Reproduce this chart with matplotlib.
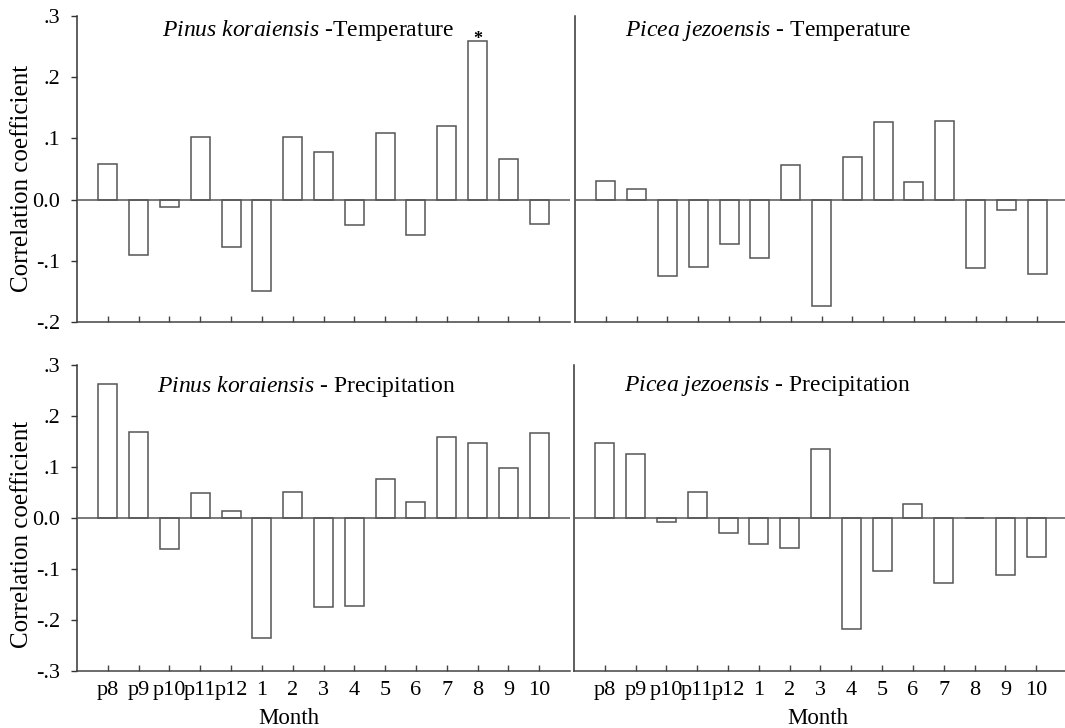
import matplotlib
matplotlib.use("Agg")
import matplotlib.pyplot as plt
import numpy as np

plt.rcParams['font.family'] = ['Liberation Serif', 'DejaVu Serif']
plt.rcParams['mathtext.fontset'] = 'custom'
plt.rcParams['mathtext.rm'] = 'Liberation Serif'
plt.rcParams['mathtext.it'] = 'Liberation Serif:italic'

months = ['p8', 'p9', 'p10', 'p11', 'p12', '1', '2', '3', '4', '5', '6', '7', '8', '9', '10']

pk_temp = [0.058, -0.091, -0.012, 0.103, -0.077, -0.150, 0.102, 0.078, -0.041,
           0.109, -0.058, 0.121, 0.259, 0.066, -0.040]
pj_temp = [0.031, 0.018, -0.125, -0.110, -0.072, -0.096, 0.057, -0.174, 0.070,
           0.127, 0.029, 0.129, -0.111, -0.017, -0.122]
pk_prec = [0.263, 0.169, -0.061, 0.050, 0.014, -0.236, 0.051, -0.175, -0.173,
           0.076, 0.031, 0.158, 0.147, 0.098, 0.167]
pj_prec = [0.147, 0.126, -0.007, 0.051, -0.030, -0.050, -0.058, 0.135, -0.218,
           -0.104, 0.028, -0.127, 0.0, -0.112, -0.077]

titles = [r'$\it{Pinus\ koraiensis}$ -Temperature',
          r'$\it{Picea\ jezoensis}$ - Temperature',
          r'$\it{Pinus\ koraiensis}$ - Precipitation',
          r'$\it{Picea\ jezoensis}$ - Precipitation']

top_yticks = [-0.2, -0.1, 0.0, 0.1, 0.2, 0.3]
top_ylabels = ['-.2', '-.1', '0.0', '.1', '.2', '.3']
bot_yticks = [-0.3, -0.2, -0.1, 0.0, 0.1, 0.2, 0.3]
bot_ylabels = ['-.3', '-.2', '-.1', '0.0', '.1', '.2', '.3']

W, H = 1065, 728
fig = plt.figure(figsize=(W / 100, H / 100), dpi=100)

def frac(x0, y_top, x1, y_bot):
    return [x0 / W, 1 - y_bot / H, (x1 - x0) / W, (y_bot - y_top) / H]

axes = [
    fig.add_axes(frac(77, 16, 570, 322)),
    fig.add_axes(frac(575, 16, 1068, 322)),
    fig.add_axes(frac(77, 365, 570, 671)),
    fig.add_axes(frac(574, 365, 1067, 671)),
]
data = [pk_temp, pj_temp, pk_prec, pj_prec]
title_x = [0.172, 0.101, 0.162, 0.101]
title_y = [0.951, 0.95, 0.93, 0.93]

edge = '#555555'
x = np.arange(len(months))
for i, (ax, vals) in enumerate(zip(axes, data)):
    ax.bar(x, vals, width=0.62, color='white', edgecolor=edge, linewidth=1.1, zorder=2)
    ax.axhline(0, color=edge, linewidth=1.1, zorder=3)
    ax.set_xlim(-1, 15)
    top = i < 2
    if top:
        ax.set_ylim(-0.2, 0.3)
    else:
        ax.set_ylim(-0.3, 0.3)
    for s in ['top', 'right']:
        ax.spines[s].set_visible(False)
    ax.spines['left'].set_color('#333333')
    ax.spines['bottom'].set_color('#444444')
    ax.spines['left'].set_linewidth(1.1)
    ax.spines['bottom'].set_linewidth(1.1)
    ax.set_xticks(x)
    ax.tick_params(axis='x', direction='in', length=4, width=1, color='#444444', pad=7,
                   labelsize=16)
    if top:
        ax.set_xticklabels([])
    else:
        ax.set_xticklabels(months)
    if i % 2 == 0:
        if top:
            ax.set_yticks(top_yticks)
            ax.set_yticklabels(top_ylabels)
        else:
            ax.set_yticks(bot_yticks)
            ax.set_yticklabels(bot_ylabels)
        ax.tick_params(axis='y', direction='out', length=4, width=1, color='#333333',
                       pad=8, labelsize=16)
        ycen = 0.47 if top else 0.445
        ax.text(-0.112, ycen, 'Correlation coefficient', transform=ax.transAxes,
                rotation=90, ha='center', va='center', fontsize=18)
    else:
        ax.set_yticks([])
    ax.text(title_x[i], title_y[i], titles[i], transform=ax.transAxes,
            ha='left', va='center', fontsize=17)
    if not top:
        mx = 0.43 if i == 2 else 0.495
        ax.text(mx, -0.154, 'Month', transform=ax.transAxes, ha='center',
                va='center', fontsize=16.5)

# significance marker above month 8 of Pinus koraiensis temperature
axes[0].text(x[months.index('8')], pk_temp[months.index('8')] - 0.004, '*',
             ha='center', va='baseline', fontsize=13, fontweight='bold', clip_on=False)

fig.savefig('out.png', dpi=100)
